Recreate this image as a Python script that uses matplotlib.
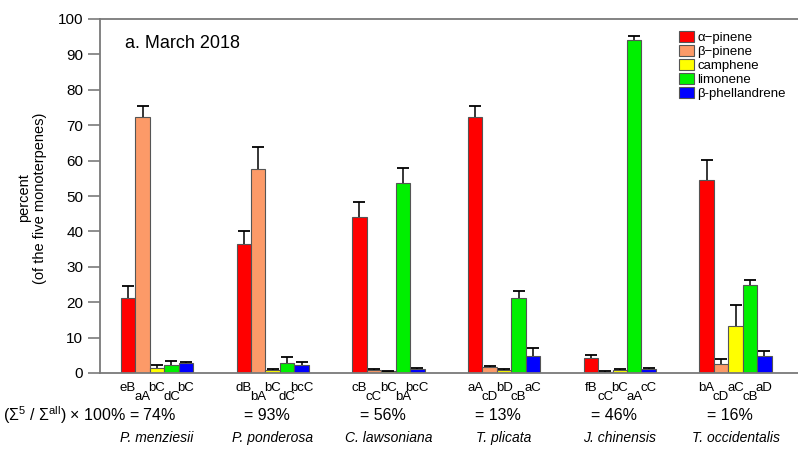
import matplotlib
matplotlib.use("Agg")
import matplotlib.pyplot as plt
import matplotlib.transforms as mtransforms
import numpy as np

plt.rcParams['font.family'] = ['Liberation Sans', 'DejaVu Sans']
plt.rcParams['mathtext.default'] = 'regular'

species = ["P. menziesii", "P. ponderosa", "C. lawsoniana", "T. plicata", "J. chinensis", "T. occidentalis"]
compounds = ["α\u2212pinene", "β\u2212pinene", "camphene", "limonene", "β-phellandrene"]

alpha_pinene = [21.3, 36.5, 44.2, 72.2, 4.3, 54.5]
alpha_pinene_err = [3.3, 3.7, 4.2, 3.3, 0.8, 5.6]
beta_pinene = [72.4, 57.6, 0.9, 1.6, 0.4, 2.5]
beta_pinene_err = [3.1, 6.3, 0.2, 0.5, 0.1, 1.5]
camphene = [1.5, 0.9, 0.6, 0.9, 0.8, 13.4]
camphene_err = [0.8, 0.3, 0.1, 0.3, 0.2, 5.7]
limonene = [2.4, 2.9, 53.6, 21.3, 94.0, 25.0]
limonene_err = [0.9, 1.7, 4.4, 1.9, 1.3, 1.3]
phellandrene = [2.8, 2.3, 1.2, 4.7, 1.1, 4.9]
phellandrene_err = [0.4, 0.9, 0.2, 2.3, 0.3, 1.3]

letters = [
    ["eB", "aA", "bC", "dC", "bC"],
    ["dB", "bA", "bC", "dC", "bcC"],
    ["cB", "cC", "bC", "bA", "bcC"],
    ["aA", "cD", "bD", "cB", "aC"],
    ["fB", "cC", "bC", "aA", "cC"],
    ["bA", "cD", "aC", "cB", "aD"],
]
share_pct = [74, 93, 56, 13, 46, 16]

values = [alpha_pinene, beta_pinene, camphene, limonene, phellandrene]
errors = [alpha_pinene_err, beta_pinene_err, camphene_err, limonene_err, phellandrene_err]
colors = ["#ff0000", "#fc9a68", "#ffff00", "#00f000", "#0000ff"]

fig = plt.figure(figsize=(7.98, 4.53), dpi=100)
ax = fig.add_axes([100/798, 80/453, 1 - 100/798, 354/453])

x = np.arange(len(species))
width = 0.125
spine_col = "#7a7a7a"

for k in range(5):
    xs = x + (k - 2) * width
    ax.bar(xs, values[k], width=width, color=colors[k], edgecolor="#555555",
           linewidth=0.8, label=compounds[k], zorder=2)
    tops = np.array(values[k]) + np.array(errors[k])
    ax.vlines(xs, values[k], tops, color="black", linewidth=1.1, zorder=3)
    ax.plot(xs, tops, linestyle="none", marker="_", markersize=9,
            markeredgewidth=1.3, color="black", zorder=3)

# letter annotations under bars
for i in range(len(species)):
    for k in range(5):
        off = -10.5 if k % 2 == 0 else -17
        ax.annotate(letters[i][k], xy=(x[i] + (k - 2) * width, 0), xycoords="data",
                    xytext=(0, off), textcoords="offset points",
                    ha="center", va="center", fontsize=9.5, annotation_clip=False)

trans = mtransforms.blended_transform_factory(ax.transData, fig.transFigure)
for i in range(len(species)):
    ax.text(x[i], 1 - 438/453, species[i], transform=trans, ha="center",
            va="center", fontsize=10, style="italic")
    if i == 0:
        ax.text(x[i] + 0.17, 1 - 415/453,
                r"($\Sigma^{5}$ / $\Sigma^{all}$) $\times$ 100% = " + f"{share_pct[i]}%",
                transform=trans, ha="right", va="center", fontsize=11.5)
    else:
        ax.text(x[i] - 0.05, 1 - 415/453, f"= {share_pct[i]}%", transform=trans,
                ha="center", va="center", fontsize=11.5)

ax.set_xlim((100 - 157) / 115.7, (798 - 157) / 115.7)
ax.set_ylim(0, 100)
ax.set_yticks(np.arange(0, 101, 10))
ax.set_xticks([])
ax.tick_params(axis="y", length=9, width=1.2, color=spine_col, labelsize=11, pad=3)
for s in ["left", "bottom", "top"]:
    ax.spines[s].set_color(spine_col)
    ax.spines[s].set_linewidth(1.3)
ax.spines["right"].set_visible(False)

fig.text(32/798, 1 - 198/453, "percent\n(of the five monoterpenes)", rotation=90,
         ha="center", va="center", fontsize=10.5, multialignment="center",
         linespacing=1.25)

ax.text(125/798, 1 - 44/453, "a. March 2018", transform=fig.transFigure,
        ha="left", va="center", fontsize=13)

leg = ax.legend(loc="upper left", bbox_to_anchor=(679/798, 1 - 31/453),
                bbox_transform=fig.transFigure, frameon=False, fontsize=9.5,
                handlelength=1.15, handleheight=0.95, labelspacing=0.06,
                handletextpad=0.25, borderpad=0, borderaxespad=0)

fig.savefig("out.png", dpi=100)
